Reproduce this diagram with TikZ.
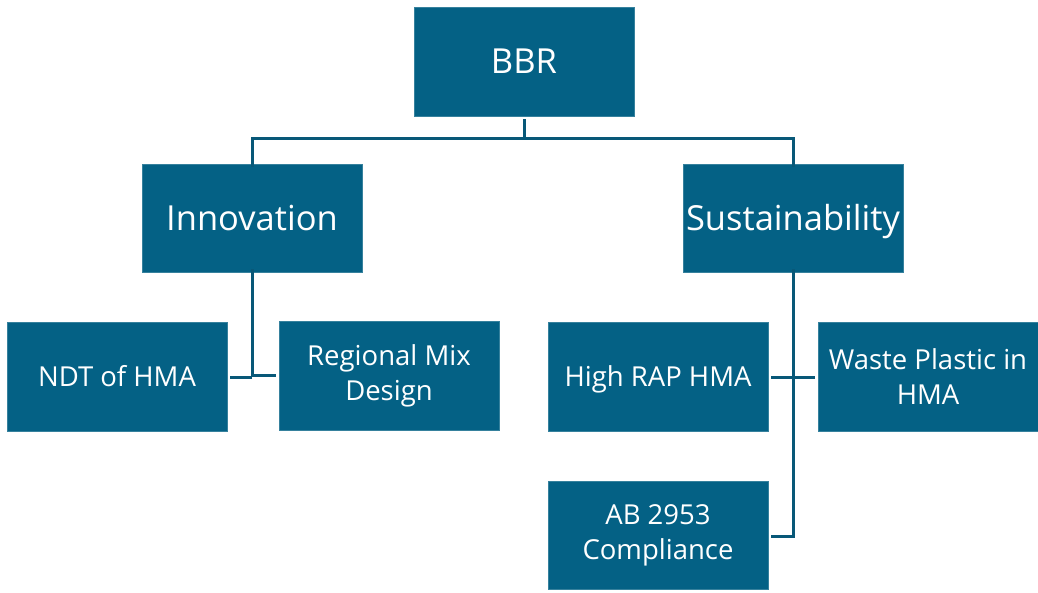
\documentclass[tikz,border=0pt]{standalone}
\usepackage{fontspec}
\setmainfont{Open Sans}
\definecolor{boxblue}{RGB}{4,97,133}
\definecolor{linkblue}{RGB}{8,88,120}
\tikzset{
  orgbox/.style={draw=boxblue!80!white, line width=0.6pt, fill=boxblue, text=white, minimum width=220pt, minimum height=108pt, inner sep=1pt, align=center, font=\fontsize{27.5}{35}\selectfont},
  topbox/.style={orgbox, font=\fontsize{34.5}{40}\selectfont},
  onebig/.style={text height=24.6pt, text depth=0pt},
  onesmall/.style={text height=19.6pt, text depth=0pt},
  link/.style={draw=linkblue, line width=3pt}
}
\begin{document}
\begin{tikzpicture}[x=1pt,y=-1pt]
\useasboundingbox (0,0) rectangle (1038,592);
\node[topbox, onebig, minimum height=109pt] (bbr) at (524,61.5) {BBR};
\node[topbox, onebig] (inn) at (252,218) {Innovation};
\node[topbox, onebig] (sus) at (793,218) {Sustainability};
\node[orgbox, onesmall, minimum height=109pt] (ndt) at (117,376.5) {NDT of HMA};
\node[orgbox, minimum height=109pt] (reg) at (389,375.5) {Regional Mix\\Design};
\node[orgbox, onesmall, minimum height=109pt] (rap) at (658,376.5) {High RAP HMA};
\node[orgbox, minimum height=109pt] (wpl) at (928,376.5) {Waste Plastic in\\HMA};
\node[orgbox] (ab) at (658,535) {AB 2953\\Compliance};
\coordinate (bj) at (524,138);
\coordinate (ij) at (252,377);
\coordinate (sj) at (793,377);
\coordinate (sb) at (793,536);
\draw[link] ([yshift=-3pt]bbr.south) -- (bj);
\draw[link] (bj) -| ([yshift=-3pt]inn.north);
\draw[link] (bj) -| ([yshift=-3pt]sus.north);
\draw[link] ([yshift=3pt]inn.south) -- (ij);
\draw[link] (ij) -- ([xshift=3pt]ndt.east |- ij);
\draw[link] (252,375) -- ([xshift=-3pt]reg.west |- 0,375);
\draw[link] ([yshift=3pt]sus.south) -- (sb) -- ([xshift=3pt]ab.east |- sb);
\draw[link] ([xshift=3pt]rap.east |- sj) -- ([xshift=-3pt]wpl.west |- sj);
\end{tikzpicture}
\end{document}
